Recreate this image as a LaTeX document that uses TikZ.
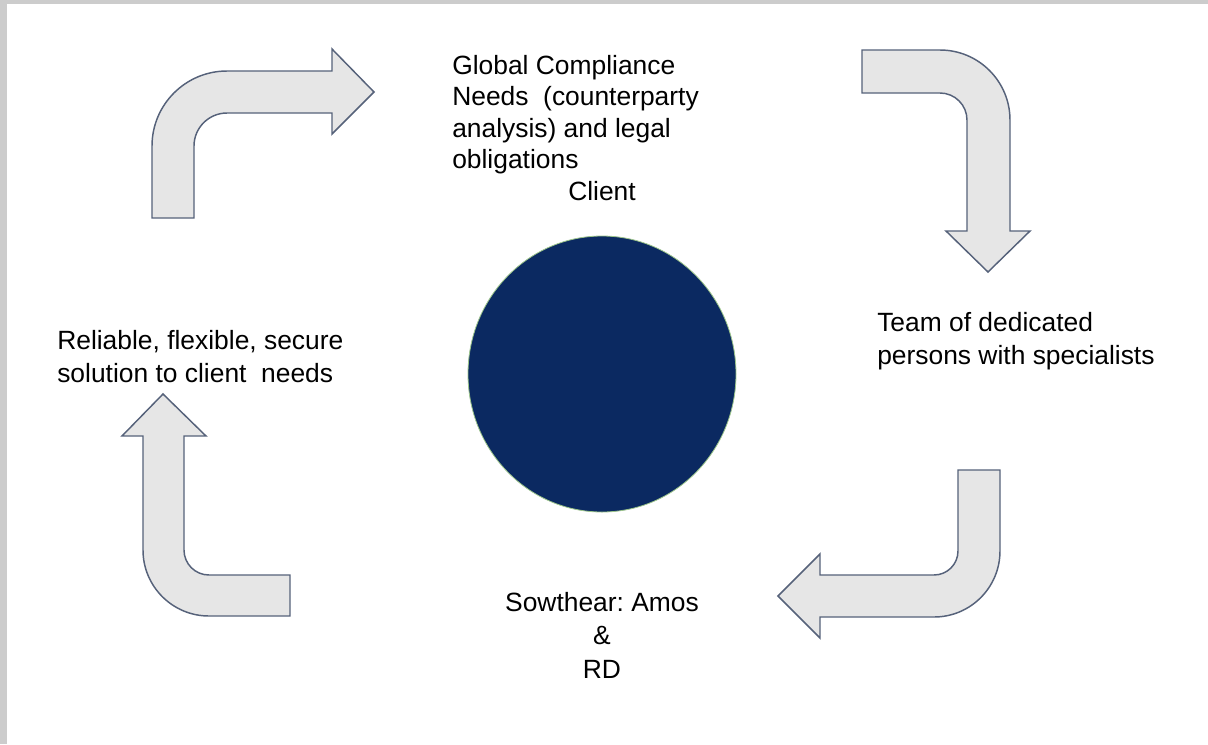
\documentclass[tikz,border=0pt]{standalone}
\usepackage{fontspec}
\setmainfont{Liberation Sans}
\usepackage{xcolor}
\definecolor{arrowfill}{HTML}{E6E6E6}
\definecolor{arrowline}{HTML}{56627A}
\definecolor{hubblue}{HTML}{0B2961}
\definecolor{hubrim}{HTML}{9CC58A}
\definecolor{frame}{HTML}{CCCCCC}
\frenchspacing
\begin{document}
\begin{tikzpicture}[x=0.75pt,y=-0.75pt,
    bentarrow/.style={fill=arrowfill,draw=arrowline,line width=1.1pt,line join=miter},
    txt/.style={inner sep=0pt,font=\fontsize{19.8pt}{25pt}\selectfont}]

      % page and frame
      \fill[frame] (0,0) rectangle (1208,744);
      \fill[white] (7,4) rectangle (1208,744);
      \useasboundingbox (0,0) rectangle (1208,744);

      % bent arrows, clockwise
      \draw[bentarrow] (152,218) -- (152,146) arc[start angle=180,end angle=270,radius=75]
        -- (332,71) -- (332,49) -- (374,92) -- (332,134) -- (332,113) -- (227,113)
        arc[start angle=270,end angle=180,radius=33] -- (194,218) -- cycle;
      \draw[bentarrow] (862,50) -- (940,50) arc[start angle=270,end angle=360,radius=70]
        -- (1010,231) -- (1030,231) -- (988,272) -- (946,231) -- (967,231) -- (967,120)
        arc[start angle=0,end angle=-90,radius=27] -- (862,93) -- cycle;
      \draw[bentarrow] (958,470) -- (1000,470) -- (1000,551) arc[start angle=0,end angle=90,radius=66]
        -- (820,617) -- (820,638) -- (778,596) -- (820,554) -- (820,575) -- (934,575)
        arc[start angle=90,end angle=0,radius=24] -- cycle;
      \draw[bentarrow] (290,575) -- (209,575) arc[start angle=90,end angle=180,radius=25]
        -- (184,436) -- (206,436) -- (163,394) -- (122,436) -- (143,436) -- (143,550)
        arc[start angle=180,end angle=90,radius=66] -- (290,616) -- cycle;

      % centre disc
      \draw[hubrim, line width=0.6pt, fill=hubblue] (602,374) ellipse[x radius=134,y radius=138];

      % texts
      \node[txt,anchor=north west,align=left,font=\fontsize{19.8pt}{23.6pt}\selectfont] (client) at (452,55)
        {Global Compliance\\Needs~ (counterparty\\analysis) and legal\\obligations\\\hspace*{87pt}Client};
      \node[txt,anchor=north west,align=left] (team) at (877,312) {Team of dedicated\\persons with specialists};
      \node[txt,anchor=north,align=center] (sowthear) at (602,592) {Sowthear: Amos\\\&\\RD};
      \node[txt,anchor=north west,align=left] (solution) at (57,330) {Reliable, flexible, secure\\solution to client~ needs};

    \end{tikzpicture}
\end{document}
